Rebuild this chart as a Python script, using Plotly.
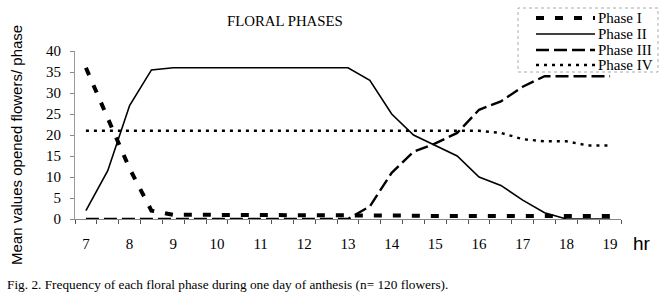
import plotly.graph_objects as go

hours = [7, 7.5, 8, 8.5, 9, 9.5, 10, 10.5, 11, 11.5, 12, 12.5, 13,
         13.5, 14, 14.5, 15, 15.5, 16, 16.5, 17, 17.5, 18, 18.5, 19]
phase1 = [36, 24, 12, 2, 1, 1, 1, 1, 1, 1, 1, 1, 0.8,
          0.8, 0.8, 0.8, 0.7, 0.7, 0.7, 0.7, 0.7, 0.7, 0.7, 0.7, 0.7]
phase2 = [2, 11.5, 27, 35.5, 36, 36, 36, 36, 36, 36, 36, 36, 36,
          33, 25, 20, 17.5, 15, 10, 8, 4.5, 1.5, 0, 0, 0]
phase3 = [0, 0, 0, 0, 0, 0, 0, 0, 0, 0, 0, 0, 0,
          3, 11, 16, 18, 20.5, 26, 28, 31.5, 34, 34, 34, 34]
phase4 = [21, 21, 21, 21, 21, 21, 21, 21, 21, 21, 21, 21, 21,
          21, 21, 21, 21, 21, 21, 20.5, 19, 18.5, 18.5, 17.5, 17.5]
series_names = ["Phase I", "Phase II", "Phase III", "Phase IV"]
x_tick_vals = [7, 8, 9, 10, 11, 12, 13, 14, 15, 16, 17, 18, 19]
y_tick_vals = [0, 5, 10, 15, 20, 25, 30, 35, 40]
x_tickmark_vals = [6.75 + 0.5 * i for i in range(26)]

serif = "Liberation Serif, Times New Roman, serif"
sans = "Liberation Sans, Arial, sans-serif"

W, H = 670, 298
L, R, T, B = 75, 49, 51, 79
PW, PH = W - L - R, H - T - B
XRANGE = [6.75, 19.25]


def px(xp):
    return (xp - L) / PW


def py(yp):
    return (H - B - yp) / PH


styles = [
    dict(color="black", width=4, dash="8px,11px"),
    dict(color="black", width=1.6),
    dict(color="black", width=2.4, dash="13px,5px"),
    dict(color="black", width=2.4, dash="3px,5px"),
]
series = [phase1, phase2, phase3, phase4]
trace_xaxes = ["x", "x", "x", "x2"]

fig = go.Figure()
for name, vals, st, xa in zip(series_names, series, styles, trace_xaxes):
    fig.add_trace(go.Scatter(x=hours, y=vals, mode="lines", name=name,
                             line=st, showlegend=False, hoverinfo="skip",
                             xaxis=xa, yaxis="y"))

annotations = [
    dict(text="FLORAL PHASES", xref="paper", yref="paper", x=px(285),
         y=py(21), xanchor="center", yanchor="middle", showarrow=False,
         font=dict(family=serif, size=14.8, color="black")),
    dict(text="Mean values opened flowers/ phase", textangle=-90,
         xref="paper", yref="paper", x=px(16), y=py(145),
         xanchor="center", yanchor="middle",
         showarrow=False, font=dict(family=sans, size=15, color="black")),
    dict(text="hr", xref="paper", yref="paper", x=px(642),
         y=py(243), xanchor="center", yanchor="middle", showarrow=False,
         font=dict(family=sans, size=19, color="black")),
    dict(text="Fig. 2. Frequency of each floral phase during one day of anthesis (n= 120 flowers).",
         xref="paper", yref="paper", x=px(5), xanchor="left",
         y=py(284), yanchor="middle", showarrow=False,
         font=dict(family=serif, size=13.3, color="black")),
]
shapes = [
    dict(type="rect", xref="paper", yref="paper",
         x0=px(518), x1=px(658), y0=py(72), y1=py(8),
         line=dict(color="#aaa", width=1, dash="dot"),
         fillcolor="white", layer="above"),
]
legend_rows = [18, 34, 50, 65]
for name, st, yrow in zip(series_names, styles, legend_rows):
    shapes.append(dict(type="line", xref="paper", yref="paper",
                       x0=px(536), x1=px(595), y0=py(yrow), y1=py(yrow),
                       line=st, layer="above"))
    annotations.append(dict(text=name, xref="paper", yref="paper",
                            x=px(596), y=py(yrow), xanchor="left",
                            yanchor="middle", showarrow=False,
                            font=dict(family=serif, size=15, color="black")))

fig.update_layout(
    width=W, height=H,
    margin=dict(l=L, r=R, t=T, b=B, autoexpand=False),
    paper_bgcolor="white", plot_bgcolor="white",
    showlegend=False,
    hovermode=False,
    xaxis=dict(
        range=XRANGE, tickmode="array", tickvals=x_tickmark_vals,
        ticktext=["" for _ in x_tickmark_vals],
        ticks="outside", ticklen=4, tickwidth=1, tickcolor="#555",
        showgrid=False, zeroline=False,
        showline=True, linecolor="#888", linewidth=1,
    ),
    xaxis2=dict(
        range=XRANGE, overlaying="x", anchor="y", side="bottom",
        tickmode="array", tickvals=x_tick_vals,
        ticks="", showline=False, showgrid=False, zeroline=False,
        ticklabelstandoff=14,
        tickfont=dict(family=serif, size=15, color="black"),
    ),
    yaxis=dict(
        range=[0, 40], tickmode="array", tickvals=y_tick_vals,
        ticks="outside", ticklen=4, tickcolor="#888",
        showgrid=False, zeroline=False,
        showline=True, linecolor="#999", linewidth=1,
        ticklabelstandoff=6,
        tickfont=dict(family=serif, size=15, color="black"),
    ),
    annotations=annotations,
    shapes=shapes,
)

fig.write_html("out.html", config={"displayModeBar": False},
               post_script="document.body.style.margin='0';")
